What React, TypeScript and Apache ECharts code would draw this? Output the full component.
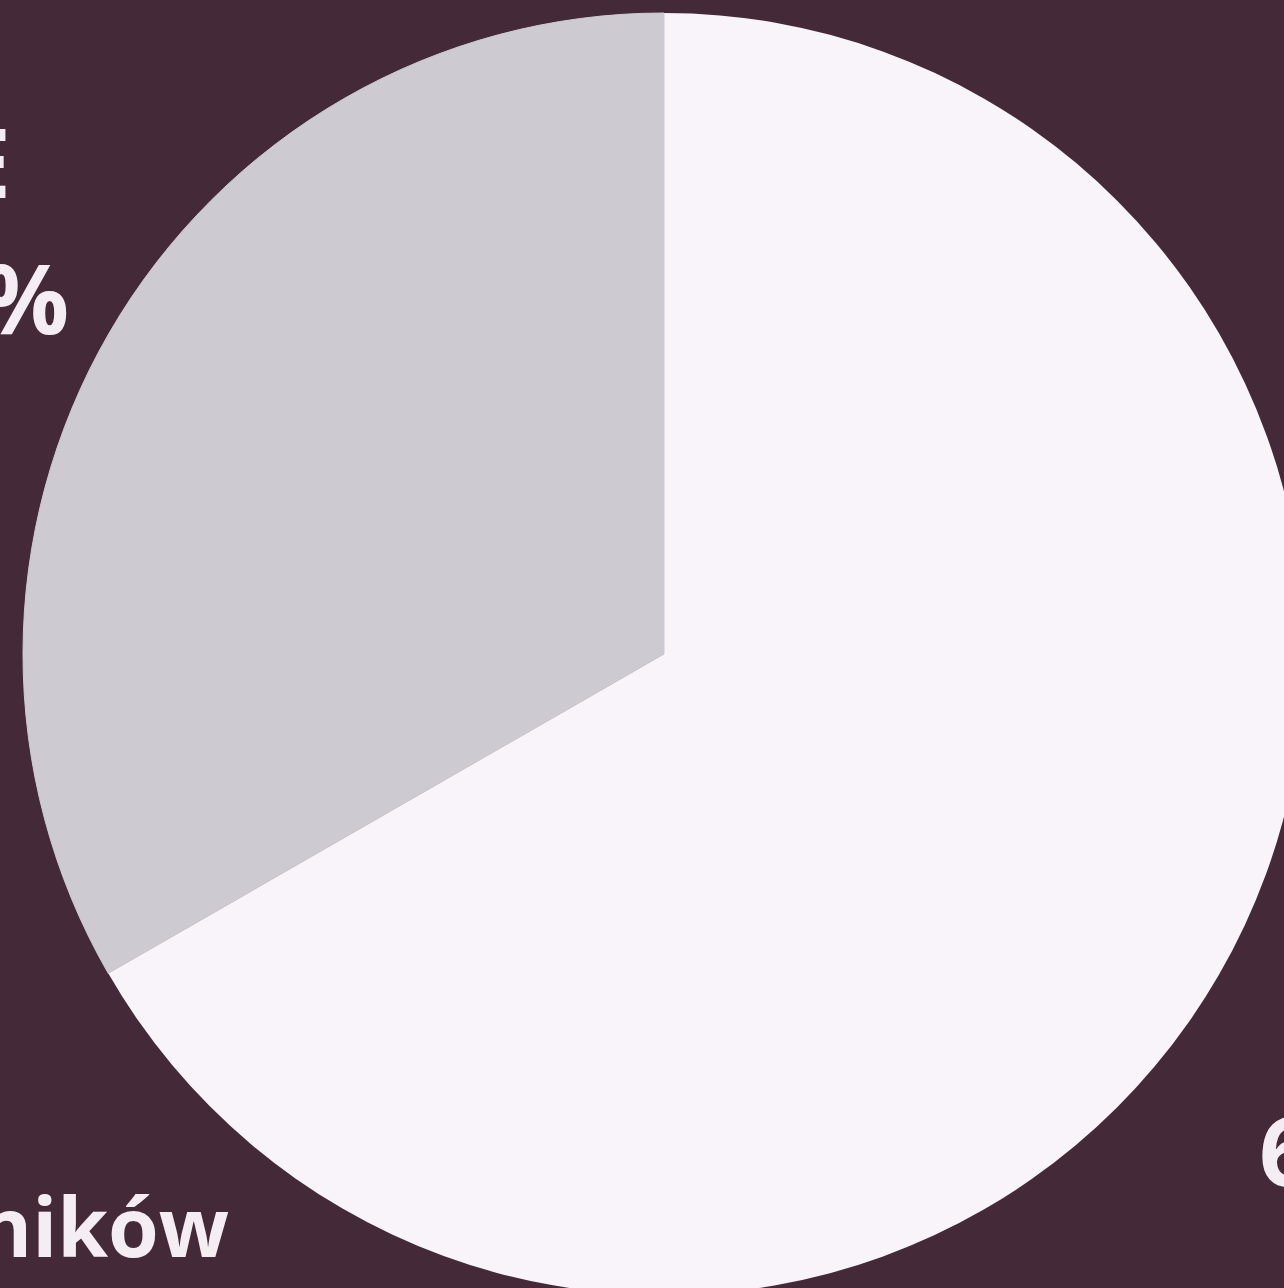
import React, { useEffect, useRef } from "react";
import * as echarts from "echarts";

const categories = ["TAK", "NIE"];
const values = [66.7, 33.3];
const sliceColors = ["#f8f4f9", "#cdcbd1"];
const sliceBorders = [0, 1];
const titleText = "Odsetek uczestników";

const BG = "#442a39";
const TEXT = "#f4eef4";
const FONT = "'Open Sans', 'Noto Sans', sans-serif";

export default function App() {
  const ref = useRef<HTMLDivElement>(null);
  useEffect(() => {
    if (!ref.current) return;
    const chart = echarts.init(ref.current, null, { renderer: "svg" });
    const pieData = categories.map((name, i) => ({
      name,
      value: values[i],
      itemStyle: {
        color: sliceColors[i],
        borderColor: sliceColors[i],
        borderWidth: sliceBorders[i],
      },
    }));
    const labelData = categories.map((name, i) => ({ name, value: values[i] }));
    const labelStyle = {
      fontSize: 97,
      fontWeight: 700 as const,
      fontFamily: FONT,
      color: TEXT,
      lineHeight: 136,
      align: "center" as const,
    };
    chart.setOption({
      animation: false,
      backgroundColor: BG,
      color: sliceColors,
      title: {
        text: titleText,
        right: 1055,
        top: 1184,
        padding: 0,
        textStyle: {
          fontSize: 82,
          fontWeight: 700,
          fontFamily: FONT,
          color: TEXT,
        },
      },
      series: [
        {
          type: "pie",
          center: [664, 654],
          radius: [0, 641],
          startAngle: 90,
          clockwise: true,
          silent: true,
          label: { show: false },
          labelLine: { show: false },
          data: pieData,
        },
        {
          type: "pie",
          center: [664, 654],
          radius: [641, 1053],
          startAngle: 90,
          clockwise: true,
          silent: true,
          itemStyle: { color: "transparent", borderWidth: 0 },
          labelLine: { show: false },
          label: {
            show: true,
            position: "inside",
            formatter: (p: any) =>
              `{n|${p.name}}\n{p|${String(p.value).replace(".", ",")}%}`,
            rich: { n: labelStyle, p: labelStyle },
          },
          data: labelData,
        },
      ],
    });
    return () => chart.dispose();
  }, []);
  return (
    <div
      ref={ref}
      style={{ position: "absolute", left: 0, top: 0, width: 1284, height: 1288 }}
    />
  );
}
